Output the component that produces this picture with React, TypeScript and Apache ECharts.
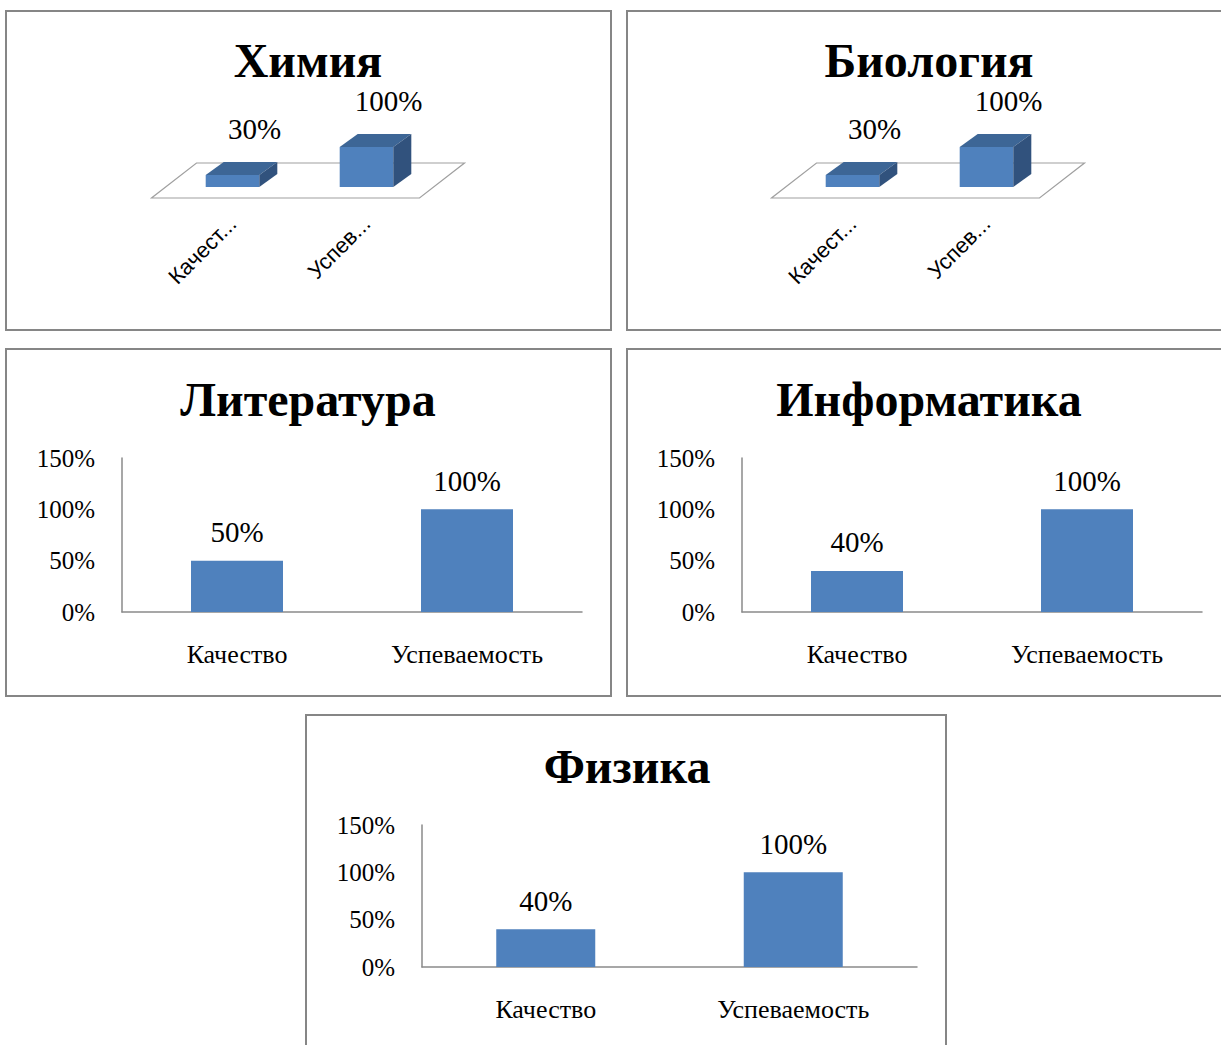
import React, { useEffect, useRef } from "react";
import * as echarts from "echarts";

const categories = ["Качество", "Успеваемость"];
const shortCategories = ["Качест...", "Успев..."];
const chemistry = [30, 100];
const biology = [30, 100];
const literature = [50, 100];
const informatics = [40, 100];
const physics = [40, 100];
const titles = ["Химия", "Биология", "Литература", "Информатика", "Физика"];
const yMin = 0;
const yMax = 150;
const yInterval = 50;

const BAR = "#4F81BD";
const TOP = "#3D6696";
const SIDE = "#31527D";
const AXIS = "#8a8a8a";
const SERIF = "'Liberation Serif', 'Times New Roman', serif";
const SANS = "'Liberation Sans', Arial, sans-serif";

const grids = [
  { left: 165.5, top: 147, width: 268, height: 40 },
  { left: 785.5, top: 147, width: 268, height: 40 },
  { left: 122, top: 458, width: 460, height: 154 },
  { left: 742, top: 458, width: 460, height: 154 },
  { left: 422, top: 825, width: 495, height: 142 },
];

const panels = [
  { x: 6, y: 11, w: 605, h: 319 },
  { x: 627, y: 11, w: 600, h: 319 },
  { x: 6, y: 349, w: 605, h: 347 },
  { x: 627, y: 349, w: 600, h: 347 },
  { x: 306, y: 715, w: 640, h: 340 },
];

const titlePos = [
  { x: 308, y: 60 },
  { x: 929, y: 60 },
  { x: 308, y: 399 },
  { x: 929, y: 399 },
  { x: 627, y: 766 },
];

function make3DSeries(values: number[], gi: number) {
  const dx = 18;
  const dy = -13;
  return {
    type: "custom",
    xAxisIndex: gi,
    yAxisIndex: gi,
    data: values.map((v, i) => [i, v]),
    renderItem: (params: any, api: any) => {
      const idx = api.value(0);
      const v = api.value(1);
      const base = api.coord([idx, 0]);
      const top = api.coord([idx, v]);
      const band = api.size([1, 0])[0];
      const w = band * 0.4;
      const x0 = base[0] - w / 2;
      const x1 = base[0] + w / 2;
      const yb = base[1];
      const yt = top[1];
      const children: any[] = [];
      if (params.dataIndex === 0) {
        const cs = params.coordSys;
        const yF = cs.y + cs.height;
        children.push({
          type: "polygon",
          shape: {
            points: [
              [cs.x - 14, yF + 11],
              [cs.x + cs.width - 14, yF + 11],
              [cs.x + cs.width + 31, yF - 24],
              [cs.x + 31, yF - 24],
            ],
          },
          style: { fill: "none", stroke: "#a0a0a0", lineWidth: 1.2 },
        });
      }
      children.push({
        type: "polygon",
        shape: { points: [[x0, yt], [x1, yt], [x1, yb], [x0, yb]] },
        style: { fill: BAR },
      });
      children.push({
        type: "polygon",
        shape: { points: [[x0, yt], [x1, yt], [x1 + dx, yt + dy], [x0 + dx, yt + dy]] },
        style: { fill: TOP },
      });
      children.push({
        type: "polygon",
        shape: { points: [[x1, yt], [x1 + dx, yt + dy], [x1 + dx, yb + dy], [x1, yb]] },
        style: { fill: SIDE },
      });
      children.push({
        type: "text",
        x: base[0] + dx / 2 + 13,
        y: yt + dy - 33,
        style: {
          text: v + "%",
          fill: "#000",
          fontSize: 29,
          fontFamily: SERIF,
          align: "center",
          verticalAlign: "middle",
          textAlign: "center",
          textVerticalAlign: "middle",
        },
      });
      return { type: "group", children };
    },
  };
}

function make2DSeries(values: number[], gi: number) {
  return {
    type: "bar",
    xAxisIndex: gi,
    yAxisIndex: gi,
    data: values,
    barWidth: "40%",
    itemStyle: { color: BAR },
    label: {
      show: true,
      position: "top",
      distance: 14,
      formatter: "{c}%",
      fontSize: 29,
      fontFamily: SERIF,
      color: "#000",
    },
  };
}

export default function App() {
  const ref = useRef<HTMLDivElement>(null);
  useEffect(() => {
    if (!ref.current) return;
    const chart = echarts.init(ref.current, null, { renderer: "svg" });
    const xAxes: any[] = [];
    const yAxes: any[] = [];
    grids.forEach((g, i) => {
      if (i < 2) {
        xAxes.push({
          gridIndex: i,
          type: "category",
          data: categories,
          axisLine: { show: false },
          axisTick: { show: false },
          axisLabel: {
            rotate: 45,
            margin: 33,
            fontSize: 22,
            fontFamily: SANS,
            color: "#000",
            formatter: (_v: string, idx: number) => shortCategories[idx],
          },
        });
        yAxes.push({ gridIndex: i, type: "value", min: 0, max: 100, show: false });
      } else {
        xAxes.push({
          gridIndex: i,
          type: "category",
          data: categories,
          axisLine: { show: true, lineStyle: { color: AXIS, width: 1.5 } },
          axisTick: { show: false },
          axisLabel: { margin: 29, fontSize: 26, fontFamily: SERIF, color: "#000" },
        });
        yAxes.push({
          gridIndex: i,
          type: "value",
          min: yMin,
          max: yMax,
          interval: yInterval,
          axisLine: { show: true, lineStyle: { color: AXIS, width: 1.5 } },
          axisTick: { show: false },
          splitLine: { show: false },
          axisLabel: {
            formatter: "{value}%",
            margin: 27,
            fontSize: 25,
            fontFamily: SERIF,
            color: "#000",
          },
        });
      }
    });
    const graphics: any[] = [];
    panels.forEach((p) => {
      graphics.push({
        type: "rect",
        shape: { x: p.x, y: p.y, width: p.w, height: p.h },
        style: { fill: "none", stroke: "#868686", lineWidth: 2 },
        z: 0,
      });
    });
    titles.forEach((t, i) => {
      graphics.push({
        type: "text",
        x: titlePos[i].x,
        y: titlePos[i].y,
        style: {
          text: t,
          fill: "#000",
          fontSize: 48,
          fontWeight: "bold",
          fontFamily: SERIF,
          textAlign: "center",
          textVerticalAlign: "middle",
          align: "center",
          verticalAlign: "middle",
        },
      });
    });
    chart.setOption({
      animation: false,
      backgroundColor: "#fff",
      grid: grids.map((g) => ({ ...g, containLabel: false })),
      xAxis: xAxes,
      yAxis: yAxes,
      graphic: graphics,
      series: [
        make3DSeries(chemistry, 0),
        make3DSeries(biology, 1),
        make2DSeries(literature, 2),
        make2DSeries(informatics, 3),
        make2DSeries(physics, 4),
      ],
    });
    return () => chart.dispose();
  }, []);
  return (
    <div
      ref={ref}
      style={{ position: "absolute", left: 0, top: 0, width: 1221, height: 1045 }}
    />
  );
}
